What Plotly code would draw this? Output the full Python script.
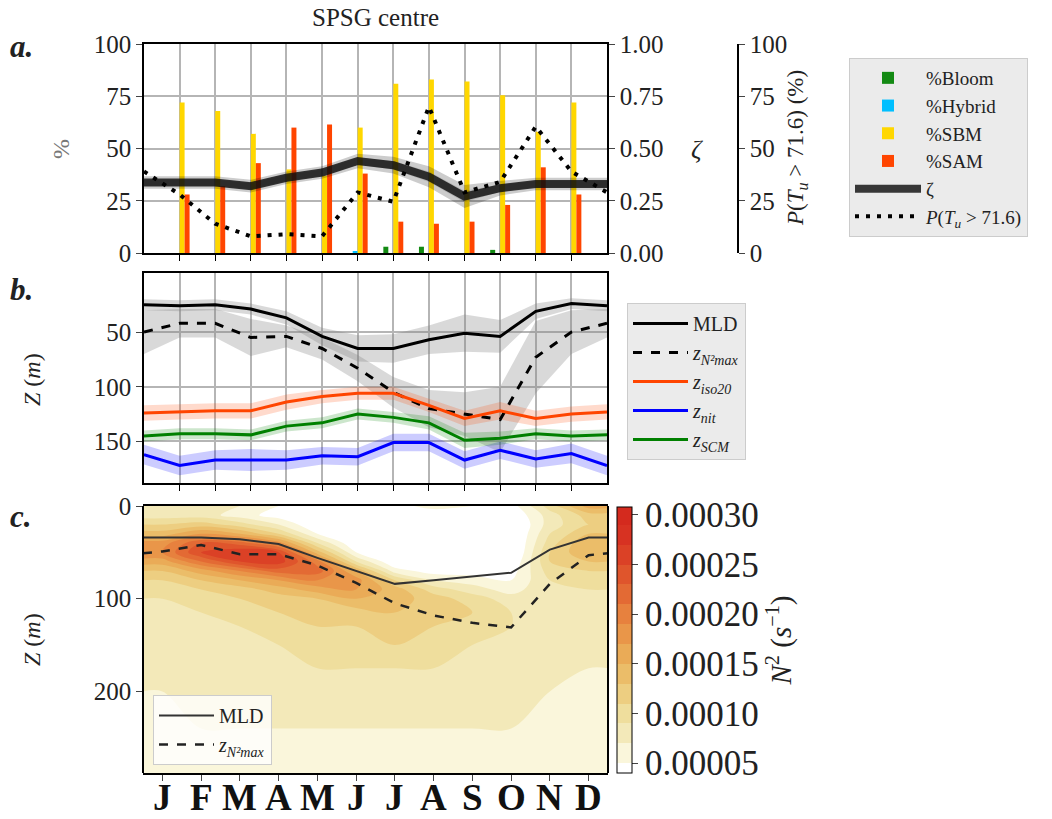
import plotly.graph_objects as go

W, H = 1052, 819
FONT = "Liberation Serif"

# ---------------- data ----------------
# panel a / b: x positions 0..13 (0 = Dec wrap, 1..12 = Jan..Dec, 13 = Jan wrap)
x_ab = list(range(14))
bar_x = list(range(1, 13))
bloom = [0, 0, 0, 0, 0, 0, 3, 3, 0, 1.5, 0, 0]
hybrid = [0, 0, 0, 0, 0, 0.7, 0, 0, 0, 0, 0, 0]
sbm = [72, 68, 57, 40, 37, 60, 81, 83, 82, 75.5, 58, 72]
sam = [28, 32, 43, 60, 61.5, 38, 15, 14, 15, 23, 41, 28]
zeta = [0.337, 0.337, 0.337, 0.32, 0.36, 0.385, 0.44, 0.42, 0.365, 0.27, 0.31, 0.33, 0.33, 0.33]
zeta_err = [0.03, 0.03, 0.03, 0.03, 0.03, 0.03, 0.035, 0.04, 0.05, 0.055, 0.035, 0.03, 0.03, 0.03]
p_tu = [39, 28, 14, 8, 9, 8, 29, 24.5, 70, 29, 34, 60.5, 39, 29]

mld_b = [25, 26, 25, 29, 37, 54, 65, 65, 57, 51, 54, 31, 24, 26]
mld_b_err = [5, 5, 5, 5, 6, 8, 12, 13, 13, 17, 15, 7, 5, 5]
n2max_b = [50, 42, 42, 55, 54, 65, 83, 105, 120, 125, 130, 73, 50, 42]
n2max_b_err = [20, 13, 13, 17, 10, 10, 12, 14, 17, 20, 30, 33, 20, 13]
iso20 = [124, 123, 122, 122, 114, 109, 106, 106, 117, 129, 122, 129, 125, 123]
iso20_err = [7, 7, 7, 7, 7, 6, 6, 6, 6, 7, 8, 7, 7, 7]
nit = [162, 172, 167, 167, 167, 163, 164, 151, 151, 167, 158, 166, 161, 172]
nit_err = [9, 9, 9, 10, 9, 8, 8, 8, 8, 8, 8, 8, 9, 9]
scm = [145, 143, 143, 144, 136, 133, 125, 128, 133, 149, 147, 143, 145, 144]
scm_err = [5, 5, 5, 5, 5, 5, 5, 5, 6, 7, 6, 5, 5, 5]

# panel c: x = month centres plus edges
x_c = [0, 0.5, 1.5, 2.5, 3.5, 4.5, 5.5, 6.5, 7.5, 8.5, 9.5, 10.5, 11.5, 12]
month_ticks = [0.5, 1.5, 2.5, 3.5, 4.5, 5.5, 6.5, 7.5, 8.5, 9.5, 10.5, 11.5]
month_labels = ["J", "F", "M", "A", "M", "J", "J", "A", "S", "O", "N", "D"]
mld_c = [34, 34, 34, 36, 41, 56, 70, 84, 80, 76, 72, 47, 34, 34]
n2max_c = [51, 49, 42, 52, 52, 64, 83, 105, 118, 126, 131, 84, 53, 51]

depth_c = [0, 10, 20, 30, 40, 50, 60, 70, 80, 90, 100, 115, 130, 150, 175, 200, 240, 290]
# N2 in units of 1e-5 s^-1 ; rows = depth, cols = x_c
n2_grid = [
    [8, 8, 8, 7, 5, 3, 2, 4, 6, 5, 4, 10, 16, 16],
    [8, 8, 8, 6, 4, 3, 2, 2, 3, 3, 3, 8, 12, 12],
    [11, 11, 12, 10, 7, 3, 2, 2, 2, 2, 2, 8, 11, 11],
    [14, 14, 17, 15, 11, 5, 2, 2, 2, 2, 2, 9, 13, 13],
    [18, 18, 23, 22, 18, 9, 3, 2, 2, 2, 2, 10, 15, 15],
    [19, 19, 25, 27, 25, 14, 5, 2, 2, 2, 2, 11, 15, 15],
    [16, 16, 21, 25, 26, 20, 9, 3, 3, 3, 3, 11, 13, 13],
    [13, 13, 16, 19, 22, 22, 15, 6, 4, 4, 4, 10, 11, 11],
    [11, 11, 13, 15, 17, 19, 18, 11, 7, 6, 5, 9, 10, 10],
    [10, 10, 11, 12, 14, 16, 17, 14, 10, 8, 6, 9, 9, 9],
    [9, 9, 10, 11, 12, 13, 15, 14, 12, 10, 8, 8, 8, 8],
    [9, 9, 9, 10, 11, 12, 12, 13, 12, 11, 9, 8, 8, 8],
    [8, 8, 9, 9, 10, 11, 11, 12, 11, 10, 9, 8, 8, 8],
    [8, 8, 8, 9, 9, 10, 10, 11, 10, 9, 9, 8, 8, 8],
    [8, 8, 8, 8, 9, 9, 9, 9, 9, 9, 8, 8, 7, 7],
    [7, 7, 8, 8, 8, 8, 8, 8, 8, 8, 8, 7, 7, 7],
    [7, 7, 7, 7, 7, 7, 7, 7, 7, 7, 7, 7, 7, 7],
    [6, 6, 6, 6, 6, 6, 6, 6, 6, 6, 6, 6, 6, 6],
]
cbar_vals = [5e-5, 1e-4, 1.5e-4, 2e-4, 2.5e-4, 3e-4]
cbar_text = ["0.00005", "0.00010", "0.00015", "0.00020", "0.00025", "0.00030"]

# ---------------- figure ----------------
fig = go.Figure()

def px_x(p):
    return p / W

def px_y(p):
    return (H - p) / H

# panel a bars
bar_specs = [("%Bloom", bloom, "#138a13"), ("%Hybrid", hybrid, "#00bfff"),
             ("%SBM", sbm, "#ffd700"), ("%SAM", sam, "#ff4500")]
for name, vals, col in bar_specs:
    fig.add_trace(go.Bar(x=bar_x, y=vals, name=name, marker=dict(color=col, line=dict(width=0)),
                         xaxis="x", yaxis="y", legend="legend"))

# zeta band
zu = [z + e for z, e in zip(zeta, zeta_err)]
zl = [z - e for z, e in zip(zeta, zeta_err)]
fig.add_trace(go.Scatter(x=x_ab + x_ab[::-1], y=zu + zl[::-1], fill="toself",
                         fillcolor="rgba(0,0,0,0.2)", line=dict(width=0), showlegend=False,
                         hoverinfo="skip", xaxis="x", yaxis="y2"))
zu2 = [z + e * 0.5 for z, e in zip(zeta, zeta_err)]
zl2 = [z - e * 0.5 for z, e in zip(zeta, zeta_err)]
fig.add_trace(go.Scatter(x=x_ab + x_ab[::-1], y=zu2 + zl2[::-1], fill="toself",
                         fillcolor="rgba(0,0,0,0.12)", line=dict(width=0), showlegend=False,
                         hoverinfo="skip", xaxis="x", yaxis="y2"))
fig.add_trace(go.Scatter(x=x_ab, y=zeta, mode="lines", name="ζ",
                         line=dict(color="rgba(15,15,15,0.82)", width=8),
                         xaxis="x", yaxis="y2", legend="legend"))
fig.add_trace(go.Scatter(x=x_ab, y=p_tu, mode="lines",
                         name="<i>P</i>(<i>T<sub>u</sub></i> > 71.6)",
                         line=dict(color="black", width=4, dash="4px,7px"),
                         xaxis="x", yaxis="y3", legend="legend"))

# panel b
def band(y, e, col, grp):
    up = [a - b for a, b in zip(y, e)]
    lo = [a + b for a, b in zip(y, e)]
    fig.add_trace(go.Scatter(x=x_ab + x_ab[::-1], y=up + lo[::-1], fill="toself",
                             fillcolor=col, line=dict(width=0), showlegend=False,
                             hoverinfo="skip", xaxis="x2", yaxis="y4", legendgroup=grp))

band(mld_b, mld_b_err, "rgba(128,128,128,0.3)", "g1")
band(n2max_b, n2max_b_err, "rgba(128,128,128,0.3)", "g2")
band(iso20, iso20_err, "rgba(255,69,0,0.2)", "g3")
band(nit, nit_err, "rgba(0,0,255,0.2)", "g4")
band(scm, scm_err, "rgba(0,128,0,0.2)", "g5")

line_specs = [
    ("MLD", mld_b, "black", "solid", "g1"),
    ("<i>z<sub>N²max</sub></i>", n2max_b, "black", "dash", "g2"),
    ("<i>z<sub>iso20</sub></i>", iso20, "#ff4500", "solid", "g3"),
    ("<i>z<sub>nit</sub></i>", nit, "#0000ff", "solid", "g4"),
    ("<i>z<sub>SCM</sub></i>", scm, "#008000", "solid", "g5"),
]
for name, vals, col, dash, grp in line_specs:
    fig.add_trace(go.Scatter(x=x_ab, y=vals, mode="lines", name=name,
                             line=dict(color=col, width=3, dash=dash),
                             xaxis="x2", yaxis="y4", legend="legend2", legendgroup=grp))

# panel c
cscale = [
    [0.0, "#ffffff"], [0.04, "#ffffff"], [0.075, "#faf6dc"], [0.149, "#f3eabb"],
    [0.224, "#efdf9f"], [0.298, "#edd084"], [0.373, "#ebc06c"], [0.448, "#eaae5a"],
    [0.522, "#e99b4c"], [0.597, "#e88640"], [0.672, "#e47036"], [0.746, "#e05b2e"],
    [0.821, "#dc4728"], [0.896, "#d83523"], [1.0, "#d42a1e"],
]
fig.add_trace(go.Contour(
    x=x_c, y=depth_c, z=[[v * 1e-5 for v in row] for row in n2_grid],
    contours=dict(start=5e-5, end=3e-4, size=2e-5, coloring="fill", showlines=False),
    colorscale=cscale, zauto=False, zmin=4e-5, zmax=3.08e-4,
    line=dict(width=0), xaxis="x3", yaxis="y5", showlegend=False, hoverinfo="skip",
    colorbar=dict(x=px_x(617), xanchor="left", y=px_y(640), yanchor="middle",
                  len=266 / H, lenmode="fraction", thickness=15, ypad=0, xpad=0,
                  outlinecolor="black", outlinewidth=1,
                  tickvals=cbar_vals, ticktext=cbar_text, ticks="outside", ticklen=6,
                  tickfont=dict(family=FONT, size=35, color="#222"),
                  title=dict(text="<i>N</i><sup>2</sup> (<i>s</i><sup>−1</sup>)", side="right",
                             font=dict(family=FONT, size=29, color="#222"))),
))
fig.add_trace(go.Scatter(x=x_c, y=mld_c, mode="lines", name="MLD",
                         line=dict(color="#333", width=2), xaxis="x3", yaxis="y5",
                         legend="legend3"))
fig.add_trace(go.Scatter(x=x_c, y=n2max_c, mode="lines", name="<i>z<sub>N²max</sub></i>",
                         line=dict(color="#222", width=2.5, dash="dash"), xaxis="x3", yaxis="y5",
                         legend="legend3"))

# ---------------- layout ----------------
dom_ab_x = [px_x(144), px_x(607)]
tickfont = dict(family=FONT, size=25, color="#222")
grid_col = "#b5b5b5"

common_x = dict(range=[0, 13], tickvals=list(range(1, 13)), showticklabels=False,
                ticks="outside", ticklen=6, tickcolor="black", showline=True, linecolor="black",
                linewidth=1.5, mirror=True, showgrid=True, gridcolor=grid_col, gridwidth=1.5,
                zeroline=False, automargin=False)

fig.update_layout(
    width=W, height=H, margin=dict(l=0, r=0, t=0, b=0, pad=0, autoexpand=False),
    paper_bgcolor="white", plot_bgcolor="white",
    barmode="group", bargap=0.44, bargroupgap=0,
    font=dict(family=FONT, color="#222"),
    xaxis=dict(domain=dom_ab_x, anchor="y", **common_x),
    yaxis=dict(domain=[px_y(253), px_y(44)], range=[0, 100], tickvals=[0, 25, 50, 75, 100],
               tickfont=tickfont, ticks="outside", ticklen=6, showline=True, linecolor="black",
               linewidth=1.5, showgrid=True, gridcolor=grid_col, gridwidth=1.5, zeroline=False,
               automargin=False),
    yaxis2=dict(overlaying="y", side="right", anchor="x", range=[0, 1],
                tickvals=[0, 0.25, 0.5, 0.75, 1.0], ticktext=["0.00", "0.25", "0.50", "0.75", "1.00"],
                tickfont=tickfont, ticks="outside", ticklen=6, showline=True, linecolor="black",
                linewidth=1.5, showgrid=False, zeroline=False, automargin=False),
    yaxis3=dict(overlaying="y", side="right", anchor="free", position=px_x(738), range=[0, 100],
                tickvals=[0, 25, 50, 75, 100], tickfont=tickfont, ticks="outside", ticklen=6,
                showline=True, linecolor="black", linewidth=1.5, showgrid=False, zeroline=False,
                automargin=False),
    xaxis2=dict(domain=dom_ab_x, anchor="y4", **common_x),
    yaxis4=dict(domain=[px_y(483), px_y(273)], range=[188, -4], tickvals=[50, 100, 150],
                tickfont=tickfont, ticks="outside", ticklen=6, showline=True, linecolor="black",
                linewidth=1.5, mirror=True, showgrid=True, gridcolor=grid_col, gridwidth=1.5,
                zeroline=False, automargin=False),
    xaxis3=dict(domain=[px_x(143), px_x(608)], anchor="y5", range=[0, 12], tickvals=month_ticks,
                showticklabels=False, ticks="outside", ticklen=6,
                showline=True, linecolor="black", linewidth=1.5, mirror=True, showgrid=False,
                zeroline=False, automargin=False),
    yaxis5=dict(domain=[px_y(773), px_y(506)], range=[288, 0], tickvals=[0, 100, 200],
                tickfont=tickfont, ticks="outside", ticklen=6, showline=True, linecolor="black",
                linewidth=1.5, mirror=True, showgrid=False, zeroline=False, automargin=False),
    legend=dict(x=px_x(849), y=px_y(58), xanchor="left", yanchor="top",
                bgcolor="#ebebeb", bordercolor="#cccccc", borderwidth=1,
                font=dict(family=FONT, size=19, color="#222"), itemwidth=66,
                traceorder="normal"),
    legend2=dict(x=px_x(627), y=px_y(303), xanchor="left", yanchor="top",
                 bgcolor="#ebebeb", bordercolor="#cccccc", borderwidth=1,
                 font=dict(family=FONT, size=20, color="#222"), itemwidth=55,
                 tracegroupgap=0, traceorder="grouped"),
    legend3=dict(x=px_x(153), y=px_y(695), xanchor="left", yanchor="top",
                 bgcolor="rgba(255,255,255,0.8)", bordercolor="#cccccc", borderwidth=1,
                 font=dict(family=FONT, size=20, color="#222"), itemwidth=55),
)

ann = []
def add_text(text, x, y, size, angle=0, color="#222", xanchor="center"):
    ann.append(dict(text=text, x=px_x(x), y=px_y(y), xref="paper", yref="paper",
                    showarrow=False, textangle=angle, xanchor=xanchor, yanchor="middle",
                    font=dict(family=FONT, size=size, color=color)))

add_text("SPSG centre", 375, 17, 25)
add_text("<b><i>a.</i></b>", 8, 46, 31, xanchor="left")
add_text("<b><i>b.</i></b>", 8, 290, 31, xanchor="left")
add_text("<b><i>c.</i></b>", 8, 516, 31, xanchor="left")
add_text("%", 61, 149, 24, angle=-90, color="#777")
add_text("<i>ζ</i>", 697, 149, 26)
add_text("<i>P</i>(<i>T<sub>u</sub></i> > 71.6) (%)", 797, 148, 23, angle=-90)
add_text("<i>Z</i> (<i>m</i>)", 32, 380, 24, angle=-90)
add_text("<i>Z</i> (<i>m</i>)", 32, 640, 24, angle=-90)

# month labels under panel c, placed on the panel-c x axis
for mt, ml in zip(month_ticks, month_labels):
    ann.append(dict(text="<b>%s</b>" % ml, x=mt, xref="x3", y=px_y(797), yref="paper",
                    showarrow=False, xanchor="center", yanchor="middle",
                    font=dict(family=FONT, size=37, color="#111")))
fig.update_layout(annotations=ann)

fig.write_html("out.html")
